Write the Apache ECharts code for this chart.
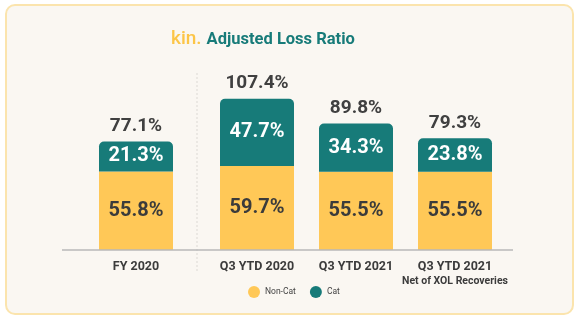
<!DOCTYPE html>
<html>
<head>
<meta charset="utf-8">
<script src="https://cdn.jsdelivr.net/npm/echarts@6/dist/echarts.min.js"></script>
<style>
  html, body { margin: 0; padding: 0; background: #ffffff; }
  #chart { width: 581px; height: 324px; }
</style>
</head>
<body>
<div id="chart"></div>
<script>
// Adjusted loss ratio by period, split into non-catastrophe and catastrophe losses (%)
const categories = ['FY 2020', 'Q3 YTD 2020', 'Q3 YTD 2021', 'Q3 YTD 2021 Net'];
const nonCat = [55.8, 59.7, 55.5, 55.5];
const cat = [21.3, 47.7, 34.3, 23.8];

const YELLOW = '#ffc857';
const TEAL = '#177b79';
const TEXT = '#3b3b3b';
const FONT = 'Roboto';

const totalOf = i => (nonCat[i] + cat[i]).toFixed(1) + '%';

function axisLabelText(name) {
  if (name === 'Q3 YTD 2021 Net') return '{a|Q3 YTD 2021}\n{b|Net of XOL Recoveries}';
  return '{a|' + name + '}';
}

// Two grids: the full-year bar on the left, the year-to-date bars on the right
const groups = [[0], [1, 2, 3]];

const grids = [
  { left: 62, top: 81, width: 148, height: 169 },
  { left: 207.5, top: 81, width: 297, height: 169 }
];

const xAxes = groups.map((idx, g) => ({
  type: 'category',
  gridIndex: g,
  data: idx.map(i => categories[i]),
  axisLine: { show: false },
  axisTick: { show: false },
  axisLabel: {
    interval: 0,
    margin: 10,
    formatter: axisLabelText,
    rich: {
      a: { fontFamily: FONT, fontSize: 12.5, fontWeight: 'bold', color: TEXT, lineHeight: 14 },
      b: { fontFamily: FONT, fontSize: 10.5, fontWeight: 'bold', color: TEXT, lineHeight: 14 }
    }
  }
}));

const yAxes = groups.map((idx, g) => ({
  type: 'value',
  gridIndex: g,
  min: 0,
  max: 120,
  show: false,
  splitLine: { show: false }
}));

const series = [];
groups.forEach((idx, g) => {
  series.push({
    name: 'Non-Cat',
    type: 'bar',
    stack: 'loss' + g,
    xAxisIndex: g,
    yAxisIndex: g,
    barWidth: 74,
    data: idx.map(i => nonCat[i]),
    itemStyle: { color: YELLOW },
    label: {
      show: true,
      position: 'inside',
      formatter: p => p.value.toFixed(1) + '%',
      fontFamily: FONT,
      fontSize: 20,
      fontWeight: 'bold',
      color: TEXT
    }
  });
  series.push({
    name: 'Cat',
    type: 'bar',
    stack: 'loss' + g,
    xAxisIndex: g,
    yAxisIndex: g,
    barWidth: 74,
    data: idx.map(i => cat[i]),
    itemStyle: { color: TEAL, borderRadius: [5, 5, 0, 0] },
    label: {
      show: true,
      position: 'inside',
      formatter: p => p.value.toFixed(1) + '%',
      fontFamily: FONT,
      fontSize: 20,
      fontWeight: 'bold',
      color: '#ffffff'
    }
  });
  // zero-height cap carrying the total above each stack
  series.push({
    name: 'Total',
    type: 'bar',
    stack: 'loss' + g,
    xAxisIndex: g,
    yAxisIndex: g,
    barWidth: 74,
    data: idx.map(() => 0),
    itemStyle: { color: 'transparent' },
    label: {
      show: true,
      position: 'top',
      distance: 6,
      formatter: p => totalOf(idx[p.dataIndex]),
      fontFamily: FONT,
      fontSize: 19,
      fontWeight: 'bold',
      color: '#404040'
    }
  });
});

const chart = echarts.init(document.getElementById('chart'), null, { renderer: 'canvas' });
chart.setOption({
  backgroundColor: '#ffffff',
  animation: false,
  title: {
    left: 166,
    top: 25,
    text: '{k|kin.}{t|Adjusted Loss Ratio}',
    textStyle: {
      rich: {
        k: { fontFamily: FONT, fontSize: 19, fontWeight: 500, color: '#fcc547', padding: [0, 5, 0, 0] },
        t: { fontFamily: FONT, fontSize: 16.5, fontWeight: 'bold', color: TEAL }
      }
    }
  },
  legend: {
    data: ['Non-Cat', 'Cat'],
    left: 248,
    top: 286,
    padding: 0,
    icon: 'circle',
    itemWidth: 12,
    itemHeight: 12,
    itemGap: 14,
    textStyle: { fontFamily: FONT, fontSize: 8.5, color: '#444444' }
  },
  graphic: [
    {
      type: 'rect',
      z: -10,
      shape: { x: 6, y: 5, width: 567, height: 309, r: 9 },
      style: { fill: '#faf7f2', stroke: '#fbe4ad', lineWidth: 2 }
    },
    {
      type: 'line',
      z: 5,
      shape: { x1: 62, y1: 250, x2: 513, y2: 250 },
      style: { stroke: '#b9b9b9', lineWidth: 1.5 }
    },
    {
      type: 'line',
      z: 1,
      shape: { x1: 197, y1: 73, x2: 197, y2: 272 },
      style: { stroke: '#dcd9d4', lineWidth: 1, lineDash: [2, 2] }
    }
  ],
  grid: grids,
  xAxis: xAxes,
  yAxis: yAxes,
  series: series
});
</script>
</body>
</html>
